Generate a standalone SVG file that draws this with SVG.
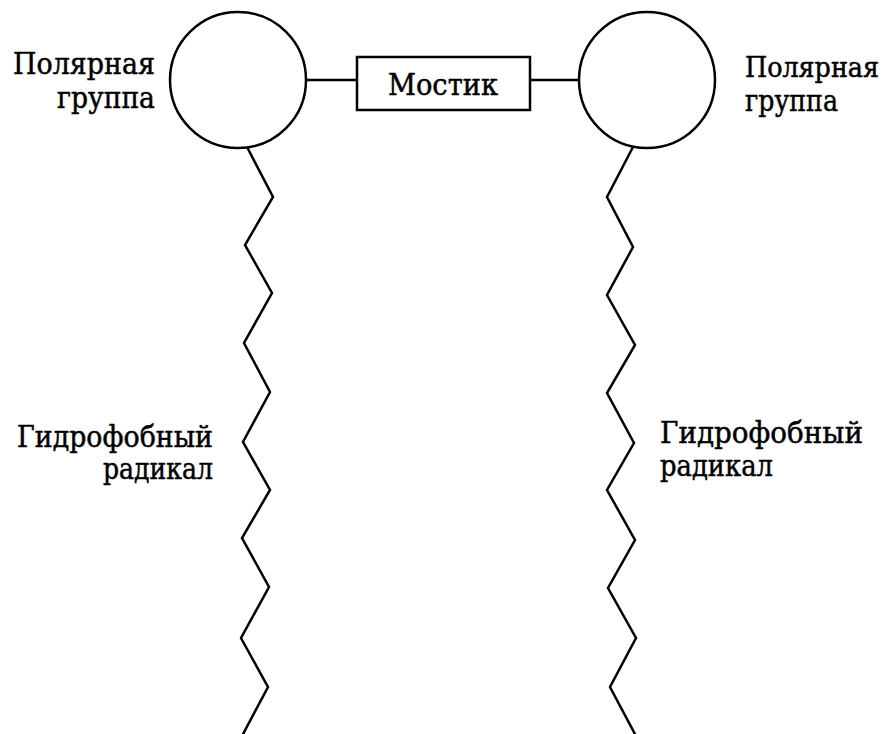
<svg xmlns="http://www.w3.org/2000/svg" width="886" height="734" viewBox="0 0 886 734">
<style>
.s{fill:none;stroke:#000;stroke-width:2.5;stroke-linejoin:miter}
.t{font-family:"DejaVu Serif","Liberation Serif",serif;font-size:29px;fill:#000;stroke:#000;stroke-width:0.5}
</style>
<rect width="886" height="734" fill="#fff"/>
<g id="polar-left">
<circle class="s" cx="238" cy="80" r="68"/>
<text class="t" x="155" y="74" text-anchor="end" textLength="142" lengthAdjust="spacingAndGlyphs">Полярная</text>
<text class="t" x="155" y="108" text-anchor="end" textLength="98" lengthAdjust="spacingAndGlyphs">группа</text>
</g>
<g id="polar-right">
<circle class="s" cx="647" cy="80" r="68"/>
<text class="t" x="745" y="77" style="font-size:27px" textLength="134" lengthAdjust="spacingAndGlyphs">Полярная</text>
<text class="t" x="745" y="111" textLength="93" lengthAdjust="spacingAndGlyphs">группа</text>
</g>
<g id="bridge">
<rect class="s" x="357" y="57" width="173" height="53"/>
<text class="t" x="388" y="95" textLength="110" lengthAdjust="spacingAndGlyphs">Мостик</text>
</g>
<g id="radical-left">
<text class="t" x="17" y="447" textLength="196" lengthAdjust="spacingAndGlyphs">Гидрофобный</text>
<text class="t" x="103" y="479" textLength="110" lengthAdjust="spacingAndGlyphs">радикал</text>
</g>
<g id="radical-right">
<text class="t" x="660" y="443" textLength="203" lengthAdjust="spacingAndGlyphs">Гидрофобный</text>
<text class="t" x="660" y="476" textLength="113" lengthAdjust="spacingAndGlyphs">радикал</text>
</g>
<g id="connectors">
<line class="s" x1="306" y1="80" x2="357" y2="80"/>
<line class="s" x1="530" y1="80" x2="579" y2="80"/>
<polyline class="s" points="247,147 273,197 245,245 272,293 244,343 270,392 243,442 270,490 242,538 269,587 241,638 268,687 242,736"/>
<polyline class="s" points="633,147 607,197 633,247 607,295 635,345 607,393 634,443 607,490 635,540 608,588 636,638 610,687 636,736"/>
</g>
</svg>
